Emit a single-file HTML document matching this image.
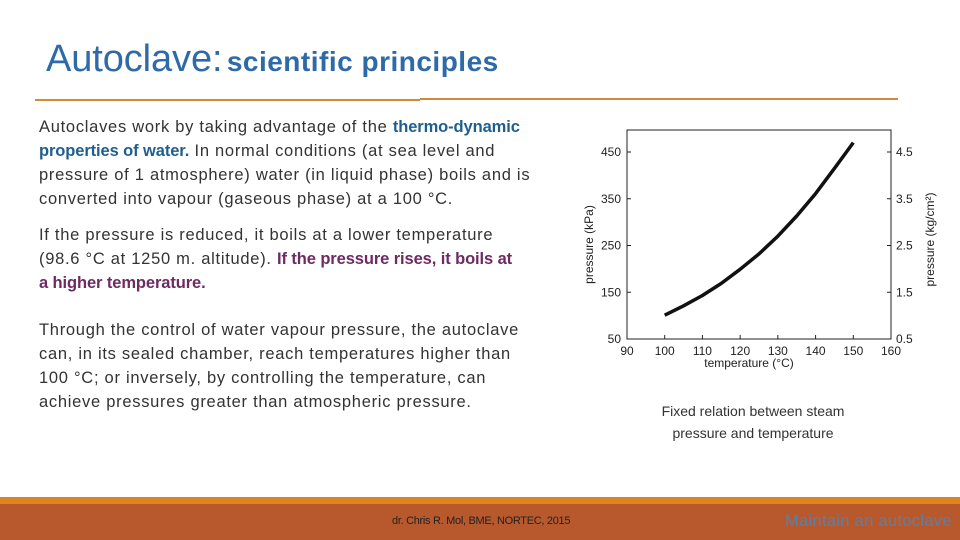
<!DOCTYPE html>
<html><head><meta charset="utf-8"><style>
body{margin:0;width:960px;height:540px;position:relative;overflow:hidden;background:#fff;font-family:"Liberation Sans",sans-serif;}
.abs{position:absolute;white-space:nowrap}
.t{font-size:16.5px;color:#333;letter-spacing:0.72px}
.b{color:#1f5f8f;font-weight:bold;letter-spacing:-0.1px}
.p{color:#6e2a63;font-weight:bold;letter-spacing:-0.1px}
</style></head><body>
<div class="abs" style="left:46px;top:38px;color:#2e6aa8;letter-spacing:-0.1px;"><span style="font-size:38px">Autoclave:</span> <span style="font-size:28px;font-weight:bold;letter-spacing:0.5px">scientific principles</span></div>
<div class="abs" style="left:35px;top:99px;width:385px;height:2px;background:#d08a3a"></div>
<div class="abs" style="left:420px;top:98px;width:478px;height:2px;background:#d08a3a"></div>
<div>
<div class="abs t" style="left:39px;top:118px">Autoclaves work by taking advantage of the <span class="b">thermo-dynamic</span></div>
<div class="abs t" style="left:39px;top:142px"><span class="b">properties of water.</span> In normal conditions (at sea level and</div>
<div class="abs t" style="left:39px;top:166px">pressure of 1 atmosphere) water (in liquid phase) boils and is</div>
<div class="abs t" style="left:39px;top:190px">converted into vapour (gaseous phase) at a 100 °C.</div>
</div>
<div>
<div class="abs t" style="left:39px;top:226px">If the pressure is reduced, it boils at a lower temperature</div>
<div class="abs t" style="left:39px;top:250px">(98.6 °C at 1250 m. altitude). <span class="p">If the pressure rises, it boils at</span></div>
<div class="abs t" style="left:39px;top:274px"><span class="p">a higher temperature.</span></div>
</div>
<div>
<div class="abs t" style="left:39px;top:321px">Through the control of water vapour pressure, the autoclave</div>
<div class="abs t" style="left:39px;top:345px">can, in its sealed chamber, reach temperatures higher than</div>
<div class="abs t" style="left:39px;top:369px">100 °C; or inversely, by controlling the temperature, can</div>
<div class="abs t" style="left:39px;top:393px">achieve pressures greater than atmospheric pressure.</div>
</div>
<svg id="chart" class="abs" style="left:0;top:0" width="960" height="540"></svg>
<div class="abs" style="left:600px;top:400px;width:306px;text-align:center;font-size:14px;color:#333;line-height:22px;white-space:normal">Fixed relation between steam<br>pressure and temperature</div>
<div class="abs" style="left:0;top:497px;width:960px;height:7px;background:#e0841e"></div>
<div class="abs" style="left:0;top:504px;width:960px;height:36px;background:#b8592d"></div>
<div class="abs" style="left:392px;top:515px;font-size:11px;color:#222;letter-spacing:-0.3px">dr. Chris R. Mol, BME, NORTEC, 2015</div>
<div class="abs" style="left:785px;top:512px;font-size:16.5px;color:#5a7fa8;letter-spacing:0.3px">Maintain an autoclave</div>
<script>
const temps=[100,105,110,115,120,125,130,135,140,145,150];
const pressures=[101,121,143,169,199,232,270,313,361,415,470];
const xTicks=[90,100,110,120,130,140,150,160];
const yTicks=[50,150,250,350,450];
const y2Ticks=["0.5","1.5","2.5","3.5","4.5"];
const NS="http://www.w3.org/2000/svg";
const svg=document.getElementById('chart');
const X0=627,X1=891,Y0=339,YT=130;
const xs=t=>X0+(t-90)*(X1-X0)/70;
const ys=p=>Y0-(p-50)*0.4675;
function mk(tag,attrs,txt){const e=document.createElementNS(NS,tag);for(const k in attrs)e.setAttribute(k,attrs[k]);if(txt!=null)e.textContent=txt;svg.appendChild(e);return e;}
let e=mk('rect',{x:X0,y:YT,width:X1-X0,height:Y0-YT,fill:'none',stroke:'#222','stroke-width':1});


xTicks.forEach(t=>{
 let l=mk('line',{x1:xs(t),x2:xs(t),y1:Y0,y2:Y0-4,stroke:'#222'});
 
 
 let tx=mk('text',{x:xs(t),y:Y0+16,'text-anchor':'middle','font-size':12,fill:'#222'},t);
 
 
});
yTicks.forEach((v,i)=>{
 let l=mk('line',{x1:X0,x2:X0+4,y1:ys(v),y2:ys(v),stroke:'#222'});
 
 
 let tx=mk('text',{x:X0-6,y:ys(v)+4,'text-anchor':'end','font-size':12,fill:'#222'},v);
 
 
 let r=mk('line',{x1:X1,x2:X1-4,y1:ys(v),y2:ys(v),stroke:'#222'});
 
 
 let t2=mk('text',{x:X1+5,y:ys(v)+4,'font-size':12,fill:'#222'},y2Ticks[i]);
 
 
});
let xt=mk('text',{x:(X0+X1)/2-10,y:Y0+28,'text-anchor':'middle','font-size':12,fill:'#222'},'temperature (°C)');


let yt=mk('text',{x:0,y:0,'text-anchor':'middle','font-size':12,fill:'#222',transform:`translate(593,${(YT+Y0)/2+10}) rotate(-90)`},'pressure (kPa)');


let y2=mk('text',{x:0,y:0,'text-anchor':'middle','font-size':12,fill:'#222',transform:`translate(934,${(YT+Y0)/2+5}) rotate(-90)`},'pressure (kg/cm²)');


let d=temps.map((t,i)=>(i?'L':'M')+xs(t).toFixed(1)+','+ys(pressures[i]).toFixed(1)).join(' ');
let c=mk('path',{d:d,fill:'none',stroke:'#111','stroke-width':3.5,'stroke-linejoin':'round'});


</script>
</body></html>
